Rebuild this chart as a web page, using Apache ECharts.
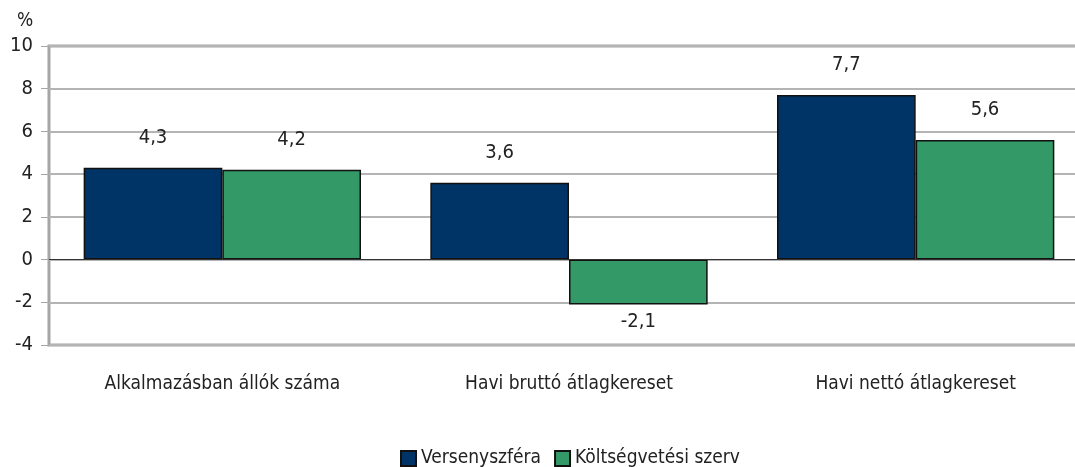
<!DOCTYPE html>
<html lang="hu">
<head>
    <meta charset="UTF-8">
    <title>Verseny- és költségvetési szféra</title>
    <script src="https://cdn.jsdelivr.net/npm/echarts@6/dist/echarts.min.js"></script>
    <style>
        html, body { margin: 0; padding: 0; background: #fff; }
        #chart { width: 1075px; height: 467px; }
    </style>
</head>
<body>
    <div id="chart"></div>
    <script type="text/javascript">
        var categories = ['Alkalmazásban állók száma', 'Havi bruttó átlagkereset', 'Havi nettó átlagkereset'];
        var seriesNames = ['Versenyszféra', 'Költségvetési szerv'];
        var verseny = [4.3, 3.6, 7.7];
        var koltseg = [4.2, -2.1, 5.6];
        var yMin = -4, yMax = 10, yStep = 2;

        var font = '"DejaVu Sans Condensed", "Arial Narrow", "Liberation Sans", sans-serif';

        // negativ oszlopnal a felirat alulra kerul
        function toData(vals) {
            return vals.map(function (v) {
                if (v < 0) {
                    return { value: v, label: { position: 'bottom', distance: 7 } };
                }
                return v;
            });
        }

        function valueLabel(p) {
            return String(p.value).replace('.', ',');
        }

        var myChart = echarts.init(document.getElementById('chart'));
        var option = {
            animation: false,
            title: {
                text: '%',
                left: 12,
                top: 7,
                textStyle: { fontFamily: font, fontSize: 19, fontWeight: 'normal', color: '#222' }
            },
            // a jobb szele a kepen kivul esik, mint az eredetin
            grid: {
                left: 49,
                right: -14,
                top: 46,
                bottom: 122,
                outerBoundsMode: 'none',
                show: true,
                borderColor: '#a6a6a6',
                borderWidth: 3
            },
            legend: {
                data: seriesNames,
                left: 395,
                top: 444,
                icon: 'rect',
                itemWidth: 15,
                itemHeight: 15,
                itemGap: 13,
                textStyle: { fontFamily: font, fontSize: 19, color: '#222' }
            },
            xAxis: {
                type: 'category',
                data: categories,
                axisLine: { show: false, onZero: false },
                axisTick: { show: false },
                axisLabel: { margin: 30, fontFamily: font, fontSize: 19, color: '#222' }
            },
            yAxis: {
                type: 'value',
                min: yMin,
                max: yMax,
                interval: yStep,
                axisLine: { show: false },
                axisTick: { show: true, length: 8, lineStyle: { color: '#a6a6a6', width: 1 } },
                axisLabel: { margin: 16, fontFamily: font, fontSize: 20, color: '#222' },
                splitLine: { lineStyle: { color: '#b4b4b4', width: 2 } }
            },
            series: [
                {
                    name: seriesNames[0],
                    type: 'bar',
                    data: toData(verseny),
                    barGap: '0%',
                    barCategoryGap: '20%',
                    itemStyle: { color: '#003366', borderColor: '#111', borderWidth: 1.5 },
                    label: {
                        show: true,
                        position: 'top',
                        distance: 20,
                        fontFamily: font,
                        fontSize: 20,
                        color: '#222',
                        formatter: valueLabel
                    },
                    markLine: {
                        silent: true,
                        symbol: 'none',
                        label: { show: false },
                        lineStyle: { color: '#333', width: 1, type: 'solid' },
                        data: [{ yAxis: 0 }]
                    }
                },
                {
                    name: seriesNames[1],
                    type: 'bar',
                    data: toData(koltseg),
                    barGap: '0%',
                    barCategoryGap: '20%',
                    itemStyle: { color: '#339966', borderColor: '#111', borderWidth: 1.5 },
                    label: {
                        show: true,
                        position: 'top',
                        distance: 20,
                        fontFamily: font,
                        fontSize: 20,
                        color: '#222',
                        formatter: valueLabel
                    }
                }
            ]
        };
        myChart.setOption(option);
    </script>
</body>
</html>
